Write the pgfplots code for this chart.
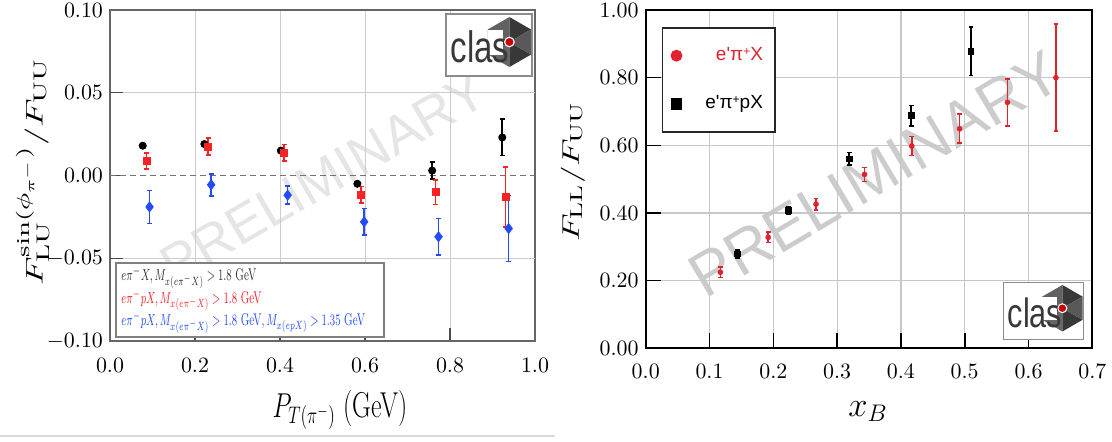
\documentclass[border=0pt]{standalone}
\usepackage{fontspec}
\usepackage{pgfplots}
\pgfplotsset{compat=1.18}
\usepackage{graphicx}
\newfontfamily\helv{Liberation Sans}
\definecolor{lred}{RGB}{245,35,35}
\definecolor{lblue}{RGB}{35,75,250}
\definecolor{rred}{RGB}{225,35,45}
\newcommand{\clastext}{\helv\fontsize{22}{22}\selectfont}
\newcommand{\claslogo}[2]{%
\begin{scope}[shift={#1}, scale=#2, transform shape]
 \draw[black!45, fill=white, line width=0.6pt] (-21.5pt,-15.5pt) rectangle (21.5pt,15.5pt);
 \begin{scope}[shift={(10.2pt,1.5pt)}]
  \fill[black!78] (0,0) -- (30:12.5pt) -- (90:12.5pt) -- cycle;
  \fill[black!62] (0,0) -- (90:12.5pt) -- (150:12.5pt) -- cycle;
  \fill[black!80] (0,0) -- (150:12.5pt) -- (210:12.5pt) -- cycle;
  \fill[black!60] (0,0) -- (210:12.5pt) -- (270:12.5pt) -- cycle;
  \fill[black!78] (0,0) -- (270:12.5pt) -- (330:12.5pt) -- cycle;
  \fill[black!65] (0,0) -- (330:12.5pt) -- (30:12.5pt) -- cycle;
  \fill[white] (150:12.5pt) -- (210:12.5pt) -- (-3pt,-6.25pt) -- (-3pt,6.25pt) -- cycle;
 \end{scope}
 \node[anchor=base, font=\clastext, text=black!78, inner sep=0pt, xscale=0.75] at (-4.5pt,-8.8pt) {clas};
 \fill[white] (10.2pt,1.5pt) circle (2.7pt);
 \fill[red!80!black] (10.2pt,1.5pt) circle (2.0pt);
\end{scope}}
\begin{document}
\begin{tikzpicture}
\useasboundingbox (0,0) rectangle (556pt,220.5pt);
% watermarks
\node[rotate=30, font=\helv\fontsize{27}{27}\selectfont, text=black!10] at (161.8pt,131.5pt) {PRELIMINARY};
\node[rotate=30.7, font=\helv\fontsize{31}{31}\selectfont, text=black!20] at (437.25pt,133.5pt) {PRELIMINARY};
% separator line
\draw[black!15, line width=0.6pt] (0pt,2.5pt) -- (277.5pt,2.5pt);

%% LEFT PANEL
\begin{axis}[
  at={(55pt,50pt)}, anchor=south west, scale only axis,
  width=212.5pt, height=165.5pt,
  xmin=0, xmax=1, ymin=-0.1, ymax=0.1,
  xtick={0,0.2,0.4,0.6,0.8,1},
  ytick={-0.1,-0.05,0,0.05,0.1},
  scaled y ticks=false, scaled x ticks=false,
  xticklabel style={/pgf/number format/.cd, fixed, fixed zerofill, precision=1, /tikz/yshift=-5pt},
  yticklabel style={/pgf/number format/.cd, fixed, fixed zerofill, precision=2},
  tick label style={font=\fontsize{10.5}{12}\selectfont},
  axis line style={black!60, line width=0.8pt},
  tick style={black!70, line width=0.7pt},
  tick align=inside, xtick pos=bottom, ytick pos=left,
  major tick length=6.5pt,
  xmajorgrids=true,
  extra y ticks={-0.05,0.05}, extra y tick labels={},
  extra y tick style={ymajorgrids=true},
  grid style={black!20, line width=0.5pt},
  xlabel={\scalebox{0.72}[1]{$P_{T(\pi^-)}$ (GeV)}},
  xlabel style={font=\fontsize{18}{20}\selectfont, at={(axis description cs:0.541,-0.2085)}, anchor=center},
  ylabel={\scalebox{1.55}[1]{$F_{\mathrm{LU}}^{\sin(\phi_{\pi^-})}/F_{\mathrm{UU}}$}},
  ylabel style={font=\fontsize{13}{15}\selectfont, at={(axis description cs:-0.181,0.51)}, anchor=center},
  clip=false,
]
\addplot[black!55, dashed, line width=0.6pt, dash pattern=on 3pt off 2pt] coordinates {(0,0) (1,0)};
\addplot[black, only marks, mark=*, mark size=1.8pt,
  error bars/.cd, y dir=both, y explicit,
  error bar style={line width=0.8pt},
  error mark options={rotate=90, mark size=1.3pt, line width=0.8pt}]
  table[x=x, y=y, y error=e] {
x y e
0.077 0.018 0.0012
0.222 0.019 0.0012
0.402 0.015 0.0012
0.582 -0.005 0.0012
0.758 0.003 0.005
0.923 0.023 0.011
};
\addplot[lred, only marks, mark=square*, mark size=1.7pt,
  error bars/.cd, y dir=both, y explicit,
  error bar style={line width=0.8pt},
  error mark options={rotate=90, mark size=1.3pt, line width=0.8pt}]
  table[x=x, y=y, y error=e] {
x y e
0.086 0.0088 0.0047
0.231 0.0175 0.005
0.410 0.0137 0.005
0.591 -0.0116 0.005
0.766 -0.010 0.0074
0.931 -0.013 0.018
};
\addplot[lblue, only marks, mark=diamond*, mark size=2.5pt,
  error bars/.cd, y dir=both, y explicit,
  error bar style={line width=0.8pt},
  error mark options={rotate=90, mark size=1.3pt, line width=0.8pt}]
  table[x=x, y=y, y error=e] {
x y e
0.093 -0.019 0.010
0.238 -0.0056 0.0066
0.418 -0.0119 0.0054
0.598 -0.028 0.008
0.773 -0.037 0.011
0.938 -0.032 0.020
};
\end{axis}

%% RIGHT PANEL
\begin{axis}[
  at={(322.85pt,46.35pt)}, anchor=south west, scale only axis,
  width=223.3pt, height=169.15pt,
  xmin=0, xmax=0.7, ymin=0, ymax=1,
  xtick={0,0.1,0.2,0.3,0.4,0.5,0.6,0.7},
  ytick={0,0.2,0.4,0.6,0.8,1},
  scaled y ticks=false, scaled x ticks=false,
  xticklabel style={/pgf/number format/.cd, fixed, fixed zerofill, precision=1, /tikz/yshift=-4.5pt},
  yticklabel style={/pgf/number format/.cd, fixed, fixed zerofill, precision=2},
  tick label style={font=\fontsize{10.5}{12}\selectfont},
  axis line style={black, line width=0.9pt},
  tick style={black, line width=0.8pt},
  tick align=inside, xtick pos=bottom, ytick pos=left,
  major tick length=7.5pt,
  grid=major,
  grid style={black!22, line width=0.6pt},
  xlabel={$x_B$},
  xlabel style={font=\fontsize{17}{19}\selectfont, at={(axis description cs:0.498,-0.188)}, anchor=center},
  ylabel={\scalebox{1.5}[1]{$F_{\mathrm{LL}}/F_{\mathrm{UU}}$}},
  ylabel style={font=\fontsize{12.5}{15}\selectfont, at={(axis description cs:-0.163,0.522)}, anchor=center},
  legend style={at={(axis description cs:0.0358,0.9506)}, anchor=north west,
    draw=black!85, line width=0.9pt, fill=white,
    font=\helv\fontsize{9.5}{11}\selectfont, inner xsep=4pt, inner ysep=8pt, row sep=12pt},
  legend cell align=right,
  legend image code/.code={\draw[mark size=2.5pt] plot coordinates {(0pt,0pt)}; \path (-2.5pt,0pt) (12pt,0pt);},
]
\addplot[rred, only marks, mark=*, mark size=1.2pt,
  error bars/.cd, y dir=both, y explicit,
  error bar style={line width=0.8pt},
  error mark options={rotate=90, mark size=1.2pt, line width=0.8pt}]
  table[x=x, y=y, y error=e] {
x y e
0.117 0.225 0.016
0.192 0.328 0.015
0.267 0.426 0.017
0.343 0.514 0.021
0.417 0.598 0.028
0.492 0.649 0.043
0.567 0.727 0.069
0.643 0.800 0.158
};
\addlegendentry{\textcolor{rred}{e'π\raisebox{0.55ex}{\fontsize{6}{6}\selectfont +}X}}
\addplot[black, only marks, mark=square*, mark size=1.4pt,
  error bars/.cd, y dir=both, y explicit,
  error bar style={line width=0.8pt},
  error mark options={rotate=90, mark size=1.2pt, line width=0.8pt}]
  table[x=x, y=y, y error=e] {
x y e
0.144 0.279 0.012
0.2235 0.407 0.010
0.319 0.560 0.019
0.416 0.688 0.030
0.510 0.878 0.072
};
\addlegendentry{e'π\raisebox{0.55ex}{\fontsize{6}{6}\selectfont +}pX}
\end{axis}

% left legend (text only)
\node[draw=black!50, line width=0.8pt, fill=white, anchor=south west, inner xsep=2.8pt, inner ysep=0pt,
  minimum height=37pt, text width=128.4pt, align=left, font=\fontsize{8.5}{11.25}\selectfont]
  at (57.5pt,51.5pt) {%
  \scalebox{0.63}[1]{\textcolor{black!80}{$e\pi^-X, M_{x(e\pi^-X)} > 1.8$ GeV}}\\
  \scalebox{0.63}[1]{\textcolor{lred}{$e\pi^-pX, M_{x(e\pi^-X)} > 1.8$ GeV}}\\
  \scalebox{0.63}[1]{\textcolor{lblue}{$e\pi^-pX, M_{x(e\pi^-X)} > 1.8$ GeV$, M_{x(epX)} > 1.35$ GeV}}};

% logos
\claslogo{(244.5pt,198pt)}{1.0}
\claslogo{(521.7pt,65pt)}{0.93}
\end{tikzpicture}
\end{document}
